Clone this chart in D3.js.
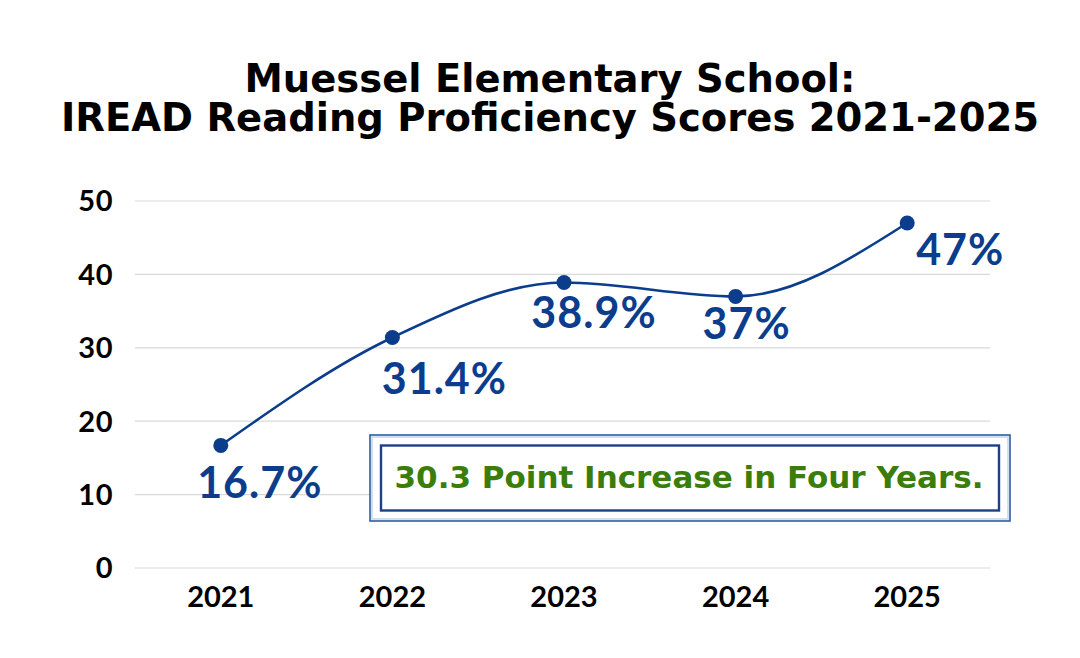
<!DOCTYPE html>
<html>
<head>
<meta charset="utf-8">
<script src="https://cdn.jsdelivr.net/npm/d3@7"></script>
<style>
  body { margin: 0; background: #fff; }
  text { font-family: Lato, "Open Sans", sans-serif; font-weight: 700; }
  .wide { font-family: "DejaVu Sans", Verdana, sans-serif; }
</style>
</head>
<body>
<svg id="chart" width="1080" height="658"></svg>
<script>
// data
const years = ["2021", "2022", "2023", "2024", "2025"];
const scores = [16.7, 31.4, 38.9, 37, 47];
const yTicks = [0, 10, 20, 30, 40, 50];
const titleLines = ["Muessel Elementary School:", "IREAD Reading Proficiency Scores 2021-2025"];
const note = "30.3 Point Increase in Four Years.";

// label nudges (px) relative to each point
const labelDx = [39, 52, 30, 11, 53];
const labelDy = [53, 56, 46, 43, 42];

const blue = "#0b3d8c";
const green = "#3a7d0a";

const svg = d3.select("#chart");

// title
svg.append("g")
  .selectAll("text")
  .data(titleLines)
  .join("text")
  .attr("class", "wide")
  .attr("x", 550)
  .attr("y", (d, i) => 92 + i * 39)
  .attr("text-anchor", "middle")
  .style("font-size", "38.5px")
  .style("fill", "#000")
  .text(d => d);

// scales
const x = d3.scalePoint().domain(years).range([135, 993]).padding(0.5);
const y = d3.scaleLinear().domain([0, 50]).range([568, 201]);

// grid lines
svg.append("g")
  .selectAll("line")
  .data(yTicks)
  .join("line")
  .attr("x1", 135)
  .attr("x2", 990)
  .attr("y1", d => y(d))
  .attr("y2", d => y(d))
  .attr("stroke", "#d9d9d9")
  .attr("stroke-width", 1.2);

// y axis labels
svg.append("g")
  .selectAll("text")
  .data(yTicks)
  .join("text")
  .attr("x", 113)
  .attr("y", d => y(d))
  .attr("dy", "0.36em")
  .attr("text-anchor", "end")
  .style("font-size", "29px")
  .style("letter-spacing", "0.5px")
  .style("fill", "#000")
  .text(d => d);

// x axis labels
svg.append("g")
  .selectAll("text")
  .data(years)
  .join("text")
  .attr("x", d => x(d))
  .attr("y", 607)
  .attr("text-anchor", "middle")
  .style("font-size", "29px")
  .style("fill", "#000")
  .text(d => d);

// note box - drawn before the line so it sits behind
const box = svg.append("g");
box.append("rect")
  .attr("x", 370).attr("y", 435)
  .attr("width", 640).attr("height", 86)
  .attr("fill", "#fff")
  .attr("stroke", "#2b5ca3").attr("stroke-width", 1.6);
box.append("rect")
  .attr("x", 372).attr("y", 437)
  .attr("width", 636).attr("height", 82)
  .attr("fill", "none")
  .attr("stroke", "#cfe0f3").attr("stroke-width", 2);
box.append("rect")
  .attr("x", 381).attr("y", 445.5)
  .attr("width", 618).attr("height", 65)
  .attr("fill", "#fff")
  .attr("stroke", "#1d3f86").attr("stroke-width", 2.4);
box.append("text")
  .attr("class", "wide")
  .attr("x", 689)
  .attr("y", 488)
  .attr("text-anchor", "middle")
  .style("font-size", "31px")
  .style("fill", green)
  .text(note);

// line
const pts = years.map((d, i) => [x(d), y(scores[i])]);
svg.append("path")
  .attr("d", d3.line().curve(d3.curveMonotoneX)(pts))
  .attr("fill", "none")
  .attr("stroke", blue)
  .attr("stroke-width", 2.6);

// points
svg.append("g")
  .selectAll("circle")
  .data(pts)
  .join("circle")
  .attr("cx", d => d[0])
  .attr("cy", d => d[1])
  .attr("r", 7.5)
  .attr("fill", blue);

// value labels
svg.append("g")
  .selectAll("text")
  .data(scores)
  .join("text")
  .attr("x", (d, i) => pts[i][0] + labelDx[i])
  .attr("y", (d, i) => pts[i][1] + labelDy[i])
  .attr("text-anchor", "middle")
  .style("font-size", "43px")
  .style("letter-spacing", "1px")
  .style("fill", blue)
  .text(d => d + "%");
</script>
</body>
</html>
